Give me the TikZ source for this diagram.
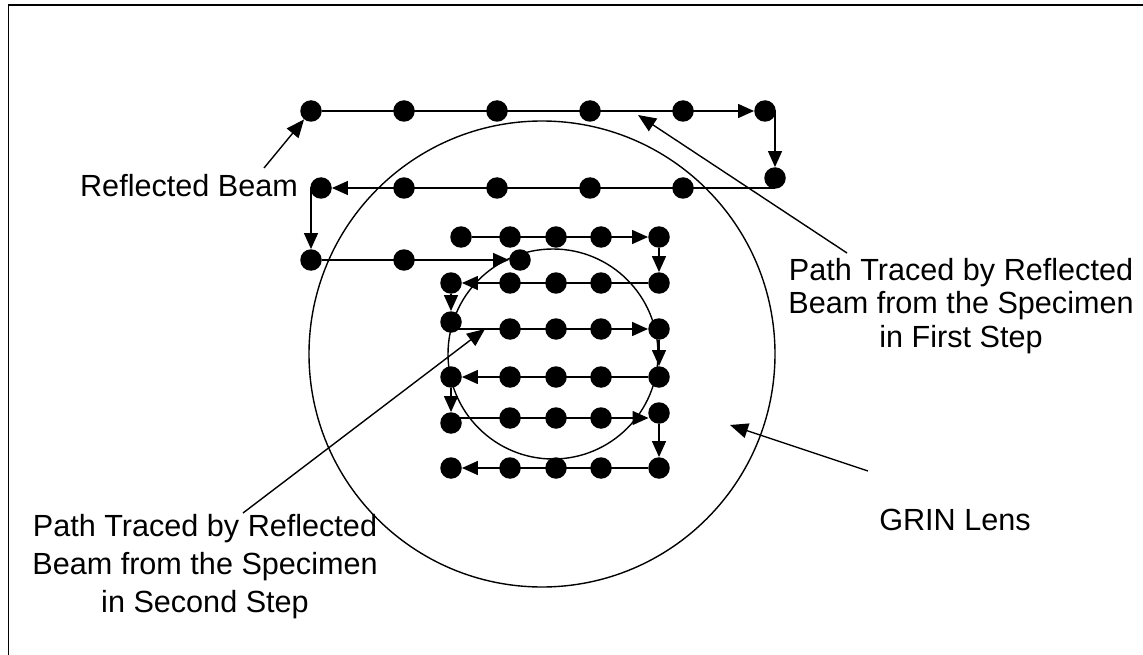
\documentclass[tikz,border=0pt]{standalone}
\usepackage{fontspec}
\setmainfont{Liberation Sans}
\usetikzlibrary{arrows.meta}
\begin{document}
\begin{tikzpicture}[x=1pt,y=-1pt,
  dot/.style={circle,fill=black,inner sep=0pt,minimum size=21.5pt},
  link/.style={line width=1.4pt},
  arr/.style={link,-{Triangle[length=16pt,width=14pt]}},
  callout/.style={link,-{Triangle[length=18pt,width=15pt]}},
  lens/.style={draw,circle,line width=1.4pt,inner sep=0pt},
  lbl/.style={inner sep=0pt,align=center},
  big/.style={font=\fontsize{30.6pt}{33.5pt}\selectfont}]
\useasboundingbox (0,0) rectangle (1143,655);
% outer frame
\draw[line width=1.8pt] (8.5,5) rectangle (1300,800);

% GRIN lens and inner circle
\node[lens,minimum size=466pt] (grin) at (542,354) {};
\node[lens,minimum size=210pt] (inner) at (553,354) {};

% first scan step
\foreach \n/\x/\y in {r1c1/311/111,r1c2/404/111,r1c3/497/111,r1c4/590/111,r1c5/683/111,r1c6/765/111,
                      r2c1/321/188,r2c2/404/188,r2c3/497/188,r2c4/590/188,r2c5/683/188,r2c6/775/178,
                      r3c1/311/260,r3c2/404/260,r3c3/520/260}
  \node[dot] (\n) at (\x,\y) {};
\draw[arr] (r1c1) -- (r1c6);
\draw[arr] (r1c6.center) -| (r2c6);
\draw[arr] (r2c6.center |- r2c5) -- (r2c1);
\draw[arr] (r2c1.center) -| (r3c1);
\draw[arr] (r3c1) -- (r3c3);

% second scan step
\foreach \n/\x/\y in {a1/461/237,a2/510/237,a3/556/237,a4/601/237,a5/659/237,
                      b1/451/283,b2/510/283,b3/556/283,b4/601/283,b5/659/283,
                      c1/451/322,c2/510/329,c3/556/329,c4/601/329,c5/659/329,
                      d1/451/377,d2/510/377,d3/556/377,d4/601/377,d5/659/377,
                      e1/451/423,e2/510/418,e3/556/418,e4/601/418,e5/659/413,
                      f1/451/468,f2/510/468,f3/556/468,f4/601/468,f5/659/468}
  \node[dot] (\n) at (\x,\y) {};
\draw[arr] (a1) -- (a5);
\draw[arr] (a5) -- (b5);
\draw[arr] (b5) -- (b1);
\draw[arr] (b1) -- (c1);
\draw[arr] (c1.center |- c2) -- (c5);
\draw[arr] (c5) -- (d5);
\draw[arr] (d5) -- (d1);
\draw[arr] (d1) -- (e1);
\draw[arr,shorten >=10.5pt] (e1.center |- e2) -- (e5.center |- e2);
\draw[arr] (e5) -- (f5);
\draw[arr] (f5) -- (f1);

% labels
\node[lbl,big,anchor=base] (rb) at (189,197) {Reflected Beam};
\node[lbl,big,anchor=north] (first) at (961,257.7)
  {Path Traced by Reflected\\Beam from the Specimen\\in First Step};
\node[lbl,font=\fontsize{30.6pt}{38pt}\selectfont,anchor=north] (second) at (205,513.7)
  {Path Traced by Reflected\\Beam from the Specimen\\in Second Step};
\node[lbl,big] (grinlbl) at (955,520) {GRIN Lens};

% callout arrows
\coordinate (rbtail) at (264,168);
\coordinate (firsttail) at (847,253);
\coordinate (firsttip) at (638,115);
\coordinate (secondtail) at (243,513);
\coordinate (secondtip) at (485,329);
\coordinate (grintail) at (868,471);
\coordinate (grintip) at (730,425);
\draw[callout] (rbtail) -- (r1c1);
\draw[callout] (firsttail) -- (firsttip);
\draw[callout] (secondtail) -- (secondtip);
\draw[callout] (grintail) -- (grintip);
\end{tikzpicture}
\end{document}
